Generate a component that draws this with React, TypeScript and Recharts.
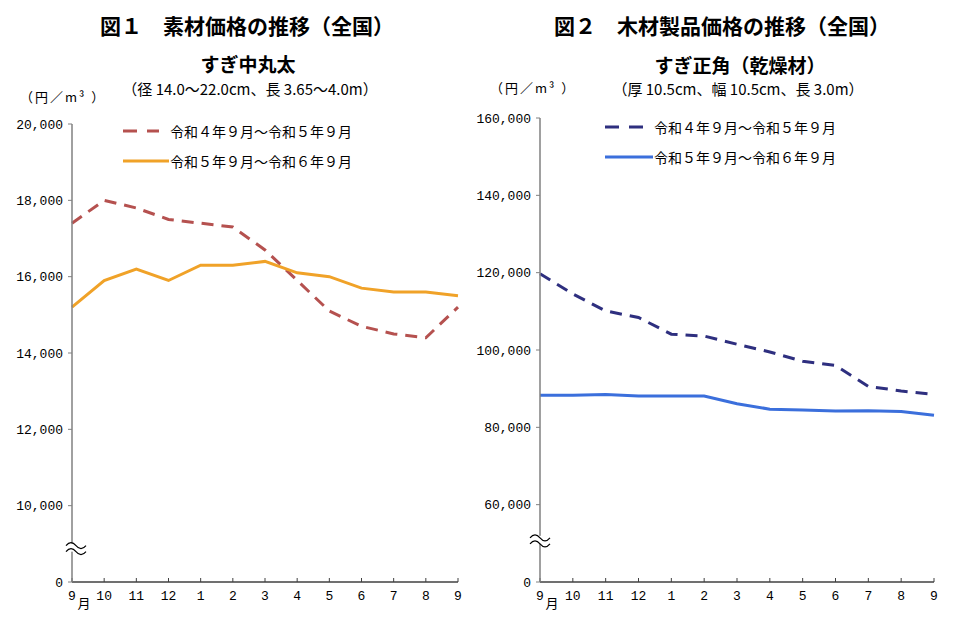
import { Legend, Line, LineChart, ReferenceDot, XAxis, YAxis } from 'recharts'

// 月（令和4年9月〜令和6年9月の並び）
const months = ['9', '10', '11', '12', '1', '2', '3', '4', '5', '6', '7', '8', '9']

// 図1 すぎ中丸太（円/m3）
const logR4 = [17400, 18000, 17800, 17500, 17400, 17300, 16700, 15900, 15100, 14700, 14500, 14400, 15200]
const logR5 = [15200, 15900, 16200, 15900, 16300, 16300, 16400, 16100, 16000, 15700, 15600, 15600, 15500]

// 図2 すぎ正角（乾燥材）（円/m3）
const lumberR4 = [119700, 114500, 110100, 108400, 104100, 103600, 101500, 99500, 97100, 96000, 90600, 89400, 88500]
const lumberR5 = [88300, 88300, 88500, 88100, 88100, 88100, 86100, 84700, 84500, 84200, 84300, 84100, 83100]

const seriesNames = ['令和４年９月～令和５年９月', '令和５年９月～令和６年９月']

// the axis is broken: 0 sits one tick step below the first real tick
const logTicks = [0, 10000, 12000, 14000, 16000, 18000, 20000]
const lumberTicks = [0, 60000, 80000, 100000, 120000, 140000, 160000]

const tickFont = '"Liberation Mono", monospace'
const jpFont = '"Noto Sans CJK JP", sans-serif'

const logData = months.map((m, i) => ({ i, m, a: logR4[i], b: logR5[i] }))
const lumberData = months.map((m, i) => ({ i, m, a: lumberR4[i], b: lumberR5[i] }))

function MonthTick({ x, y, payload }: any) {
  return (
    <g>
      <text x={x} y={y + 22} textAnchor="middle" fontFamily={tickFont} fontSize={13} fill="#000">
        {months[payload.value]}
      </text>
      {payload.value === 0 && (
        <text x={x + 12} y={y + 30} textAnchor="middle" fontFamily={jpFont} fontSize={13} fill="#000">
          月
        </text>
      )}
    </g>
  )
}

function AxisBreak({ cx, cy, dx = 0 }: any) {
  const x = cx + dx - 10
  return (
    <g>
      <rect x={x} y={cy - 4} width={20} height={8} fill="#fff" />
      <path d={`M${x},${cy - 2} q5,-6 10,0 t10,0`} fill="none" stroke="#000" strokeWidth={1.2} />
      <path d={`M${x},${cy + 4} q5,-6 10,0 t10,0`} fill="none" stroke="#000" strokeWidth={1.2} />
    </g>
  )
}

function LegendBox({ colors, textLeft }: { colors: string[]; textLeft: number }) {
  return (
    <div style={{ fontFamily: jpFont, fontSize: 14, color: '#000' }}>
      {seriesNames.map((name, k) => (
        <div key={name} style={{ display: 'flex', alignItems: 'center', height: 30, whiteSpace: 'nowrap' }}>
          <svg width={textLeft} height={6} style={{ display: 'block' }}>
            <line
              x1={0}
              y1={3}
              x2={k === 0 ? textLeft - 10 : textLeft}
              y2={3}
              stroke={colors[k]}
              strokeWidth={3}
              strokeDasharray={k === 0 ? '14 10' : undefined}
            />
          </svg>
          <span style={{ marginLeft: 1 }}>{name}</span>
        </div>
      ))}
    </div>
  )
}

interface PanelProps {
  data: { i: number; m: string; a: number; b: number }[]
  ticks: number[]
  shift: number
  colors: string[]
  width: number
  top: number
  right: number
  axisWidth: number
  breakAt: number
  breakDx: number
  legendPos: { top: number; left: number }
  legendText: number
}

function Panel(p: PanelProps) {
  const shown = p.ticks.map((t) => (t === 0 ? 0 : t - p.shift))
  return (
    <LineChart
      width={p.width}
      height={619}
      data={p.data}
      margin={{ top: p.top, right: p.right, bottom: 0, left: 0 }}
    >
      <XAxis
        dataKey="i"
        type="number"
        domain={[0, 12]}
        ticks={months.map((_, i) => i)}
        height={37}
        tickSize={-4}
        tickMargin={0}
        axisLine={{ stroke: '#404040', strokeWidth: 1.5 }}
        tickLine={{ stroke: '#404040' }}
        tick={(props: any) => <MonthTick {...props} />}
      />
      <YAxis
        type="number"
        width={p.axisWidth}
        domain={[0, shown[shown.length - 1]]}
        ticks={shown}
        interval={0}
        tickSize={4}
        tickMargin={5}
        axisLine={{ stroke: '#808080', strokeWidth: 1.5 }}
        tickLine={{ stroke: '#808080' }}
        tick={{ fontFamily: tickFont, fontSize: 13, fill: '#000' }}
        tickFormatter={(v: number) => (v === 0 ? '0' : (v + p.shift).toLocaleString('en-US'))}
      />
      <Legend
        layout="vertical"
        align="center"
        verticalAlign="middle"
        wrapperStyle={{ top: p.legendPos.top, left: p.legendPos.left, width: 'auto' }}
        content={() => <LegendBox colors={p.colors} textLeft={p.legendText} />}
      />
      <Line
        name={seriesNames[0]}
        dataKey={(d: any) => d.a - p.shift}
        stroke={p.colors[0]}
        strokeWidth={3}
        strokeDasharray="12 8"
        dot={false}
        isAnimationActive={false}
      />
      <Line
        name={seriesNames[1]}
        dataKey={(d: any) => d.b - p.shift}
        stroke={p.colors[1]}
        strokeWidth={3}
        dot={false}
        isAnimationActive={false}
      />
      <ReferenceDot
        x={0}
        y={p.breakAt}
        ifOverflow="visible"
        shape={(s: any) => <AxisBreak cx={s.cx} cy={s.cy} dx={p.breakDx} />}
      />
    </LineChart>
  )
}

const abs = (left: number, top: number, extra: object = {}) =>
  ({ position: 'absolute', left, top, fontFamily: jpFont, color: '#000', whiteSpace: 'nowrap', ...extra }) as const

export default function App() {
  return (
    <div style={{ position: 'absolute', left: 0, top: 0, width: 963, height: 619, background: '#fff' }}>
      <div style={{ position: 'absolute', left: 0, top: 0 }}>
        <Panel
          data={logData}
          ticks={logTicks}
          shift={8000}
          colors={['#b5514f', '#f0a228']}
          width={470}
          top={124}
          right={12}
          axisWidth={72}
          breakAt={900}
          breakDx={4}
          legendPos={{ top: 116, left: 123 }}
          legendText={46}
        />
      </div>
      <div style={{ position: 'absolute', left: 470, top: 0 }}>
        <Panel
          data={lumberData}
          ticks={lumberTicks}
          shift={40000}
          colors={['#2e2f7f', '#3b6fdc']}
          width={493}
          top={118}
          right={29}
          axisWidth={70}
          breakAt={10900}
          breakDx={0}
          legendPos={{ top: 112, left: 135 }}
          legendText={48}
        />
      </div>

      <div style={abs(0, 10, { width: 494, textAlign: 'center', fontSize: 21, fontWeight: 700 })}>
        図１　素材価格の推移（全国）
      </div>
      <div style={abs(0, 50, { width: 496, textAlign: 'center', fontSize: 19, fontWeight: 700 })}>
        すぎ中丸太
      </div>
      <div style={abs(0, 78, { width: 500, textAlign: 'center', fontSize: 15 })}>
        （径 14.0～22.0cm、長 3.65～4.0m）
      </div>
      <div style={abs(20, 87, { fontSize: 13, letterSpacing: 2 })}>（円／m³ ）</div>

      <div style={abs(480, 10, { width: 484, textAlign: 'center', fontSize: 21, fontWeight: 700 })}>
        図２　木材製品価格の推移（全国）
      </div>
      <div style={abs(480, 51, { width: 520, textAlign: 'center', fontSize: 19, fontWeight: 700 })}>
        すぎ正角（乾燥材）
      </div>
      <div style={abs(480, 78, { width: 516, textAlign: 'center', fontSize: 15 })}>
        （厚 10.5cm、幅 10.5cm、長 3.0m）
      </div>
      <div style={abs(490, 78, { fontSize: 13, letterSpacing: 2 })}>（円／m³ ）</div>
    </div>
  )
}
